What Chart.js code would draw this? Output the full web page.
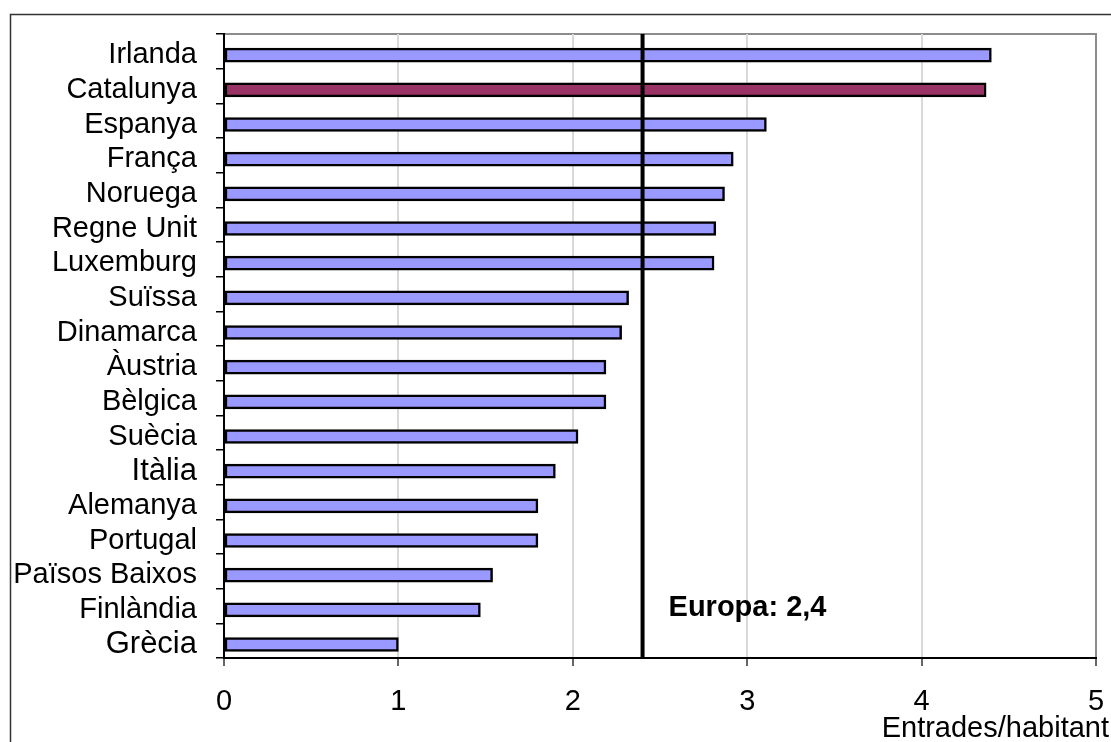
<!DOCTYPE html>
<html>
<head>
<meta charset="utf-8">
<script src="https://cdn.jsdelivr.net/npm/chart.js@4"></script>
<style>
  html, body { margin: 0; padding: 0; background: #fff; }
  #wrap { width: 1111px; height: 742px; }
</style>
</head>
<body>
<div id="wrap"><canvas id="chart"></canvas></div>
<script>
// data
const countries = ['Irlanda', 'Catalunya', 'Espanya', 'França', 'Noruega', 'Regne Unit', 'Luxemburg',
  'Suïssa', 'Dinamarca', 'Àustria', 'Bèlgica', 'Suècia', 'Itàlia', 'Alemanya', 'Portugal',
  'Països Baixos', 'Finlàndia', 'Grècia'];
const entrades = [4.40, 4.37, 3.11, 2.92, 2.87, 2.82, 2.81, 2.32, 2.28, 2.19, 2.19, 2.03, 1.90,
  1.80, 1.80, 1.54, 1.47, 1.00];
const highlight = 'Catalunya';
const bigLabels = ['Itàlia', 'Grècia'];
const europa = 2.4;
const europaLabel = 'Europa: 2,4';
const xTicks = [0, 1, 2, 3, 4, 5];
const xTitle = 'Entrades/habitant';

const FONT = '"Liberation Sans", Arial, Helvetica, sans-serif';
// bars and labels sit a little below the middle of each category slot
const rowShift = 0.11;

// frame, plot border, Europa line and the axis title
const extras = {
  id: 'extras',
  beforeDraw(chart) {
    const ctx = chart.ctx;
    ctx.save();
    ctx.strokeStyle = '#333';
    ctx.lineWidth = 1.5;
    ctx.beginPath();
    ctx.moveTo(10.5, 742);
    ctx.lineTo(10.5, 14.5);
    ctx.lineTo(1111, 14.5);
    ctx.stroke();
    const a = chart.chartArea;
    ctx.strokeStyle = '#8c8c8c';
    ctx.lineWidth = 2;
    ctx.beginPath();
    ctx.moveTo(a.left, a.top);
    ctx.lineTo(a.right, a.top);
    ctx.lineTo(a.right, a.bottom);
    ctx.stroke();
    ctx.restore();
  },
  afterDatasetsDraw(chart) {
    const ctx = chart.ctx;
    const a = chart.chartArea;
    const x = chart.scales.x.getPixelForValue(europa);
    ctx.save();
    ctx.strokeStyle = '#000';
    ctx.lineWidth = 4;
    ctx.beginPath();
    ctx.moveTo(x, a.top);
    ctx.lineTo(x, a.bottom);
    ctx.stroke();
    ctx.fillStyle = '#000';
    ctx.font = 'bold 29px ' + FONT;
    ctx.textAlign = 'left';
    ctx.textBaseline = 'alphabetic';
    ctx.fillText(europaLabel, x + 26, 616);
    ctx.font = '29px ' + FONT;
    ctx.textAlign = 'right';
    ctx.fillText(xTitle, 1109, 737);
    ctx.restore();
  }
};

new Chart(document.getElementById('chart'), {
  type: 'bar',
  data: {
    labels: countries,
    datasets: [{
      data: entrades.map((v, i) => ({ x: v, y: i })),
      yAxisID: 'yb',
      backgroundColor: countries.map(c => c === highlight ? '#993366' : '#9999ff'),
      borderColor: '#000',
      borderWidth: 2.5,
      borderSkipped: false,
      barThickness: 14
    }]
  },
  options: {
    indexAxis: 'y',
    responsive: true,
    maintainAspectRatio: false,
    animation: false,
    layout: { padding: { left: 0, top: 34, right: 15, bottom: 0 } },
    plugins: {
      legend: { display: false },
      tooltip: { enabled: false }
    },
    scales: {
      x: {
        min: 0,
        max: 5,
        afterBuildTicks: s => { s.ticks = xTicks.map(v => ({ value: v })); },
        afterFit: s => { s.height = 84; s.paddingLeft = 0; s.paddingRight = 0; },
        border: { display: true, color: '#000', width: 2 },
        grid: {
          color: c => c.tick && c.tick.value === 5 ? '#8c8c8c' : '#d9d9d9',
          lineWidth: 2,
          tickLength: 8,
          tickColor: '#333',
          tickWidth: 1.5
        },
        ticks: {
          color: '#000',
          padding: 19,
          font: { family: FONT, size: 29 }
        }
      },
      y: {
        type: 'category',
        afterFit: s => { s.width = 224; s.paddingTop = 0; s.paddingBottom = 0; },
        border: { display: true, color: '#000', width: 2 },
        grid: {
          offset: true,
          drawOnChartArea: false,
          tickLength: 8,
          color: '#000',
          lineWidth: 1.5
        },
        ticks: {
          color: '#000',
          padding: 19,
          autoSkip: false,
          labelOffset: 4,
          font: c => ({ family: FONT, size: bigLabels.includes(countries[c.index]) ? 31 : 29 })
        }
      },
      yb: {
        type: 'linear',
        display: false,
        reverse: true,
        offset: false,
        grid: { offset: false },
        min: -0.5 - rowShift,
        max: countries.length - 0.5 - rowShift
      }
    }
  },
  plugins: [extras]
});
</script>
</body>
</html>
